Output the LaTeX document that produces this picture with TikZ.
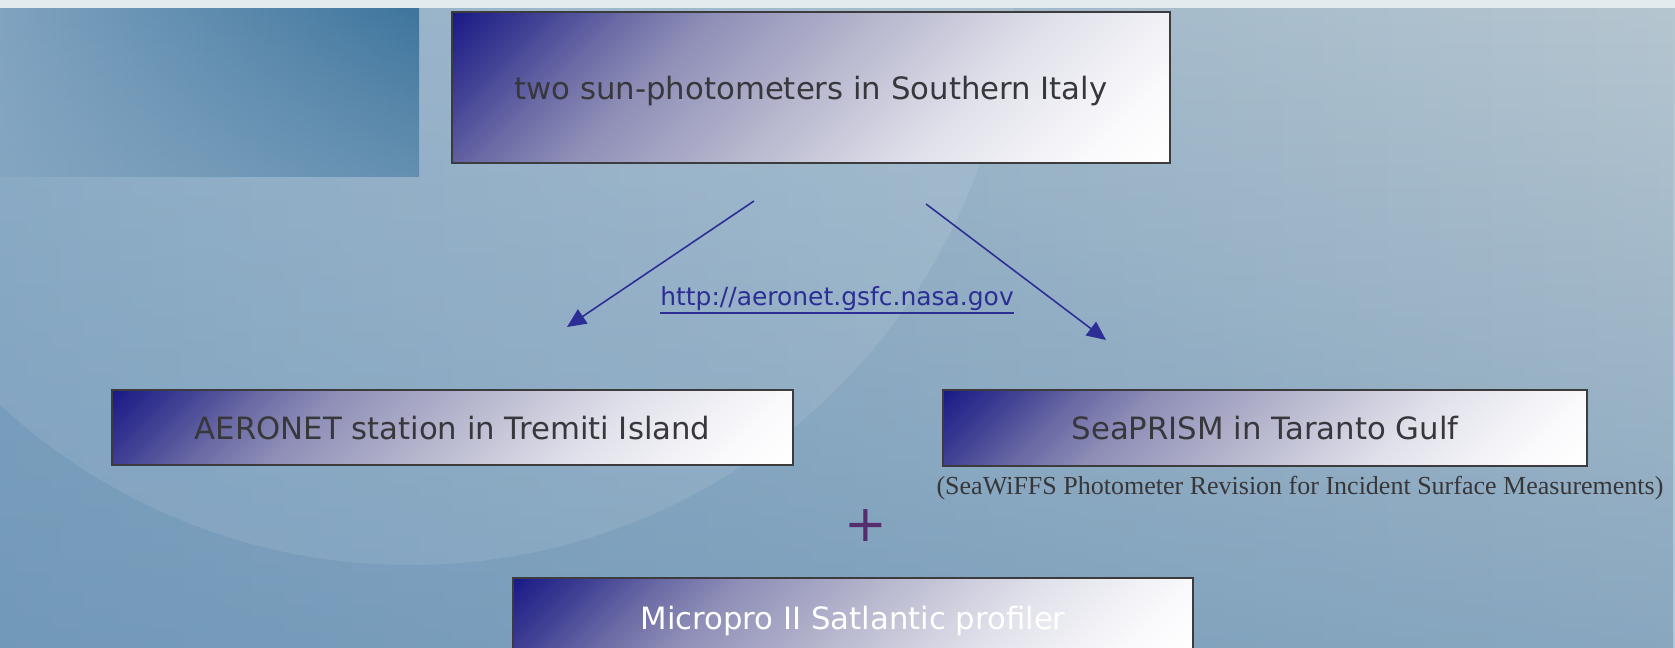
\documentclass[tikz,border=0pt]{standalone}
\usepackage{fontspec}
\setmainfont{DejaVu Sans}
\newfontfamily\timesfont{Liberation Serif}
\usetikzlibrary{arrows.meta,fadings}

\definecolor{navy}{RGB}{25,25,135}
\definecolor{boxtext}{RGB}{55,55,60}
\definecolor{boxline}{RGB}{60,60,62}
\definecolor{linkblue}{RGB}{45,45,150}
\definecolor{plusviolet}{RGB}{85,45,110}
\definecolor{notegray}{RGB}{55,55,58}
\definecolor{bgleft}{RGB}{132,166,194}
\definecolor{bgright}{RGB}{182,198,208}
\definecolor{bgdeep}{RGB}{100,142,178}
\definecolor{bgdark}{RGB}{62,117,157}
\definecolor{bgpale}{RGB}{128,163,192}
\definecolor{bgtop}{RGB}{228,235,239}

\pgfdeclareverticalshading{boxshade}{100bp}{rgb(0bp)=(1,1,1); rgb(14.6bp)=(1,1,1);
  rgb(21.5bp)=(0.98,0.98,0.99); rgb(35.8bp)=(0.88,0.88,0.92); rgb(50bp)=(0.72,0.72,0.81);
  rgb(64bp)=(0.56,0.56,0.72); rgb(71.2bp)=(0.42,0.42,0.65); rgb(78.3bp)=(0.25,0.25,0.58);
  rgb(85.4bp)=(0.10,0.10,0.53); rgb(100bp)=(0.10,0.10,0.53)}

\tikzfading[name=fadedown, top color=transparent!0, bottom color=transparent!45]
\tikzfading[name=fadeup, top color=transparent!100, bottom color=transparent!45]

\newcommand{\ulink}[1]{\setbox0\hbox{#1}\rlap{\rule[-5pt]{\wd0}{1.1pt}}\box0}

\tikzset{
  stagebox/.style={draw=boxline, line width=1.1pt, rectangle, inner sep=0pt,
    shade, shading=boxshade, shading angle=45, text depth=0pt,
    text=boxtext, font=\fontsize{17.5}{21}\selectfont},
  arrowline/.style={draw=linkblue, line width=0.9pt, -{Triangle[length=0.38cm,width=0.34cm]}}
}

\begin{document}
\begin{tikzpicture}[x=0.02cm, y=-0.02cm]
    \useasboundingbox (0,0) rectangle (1675,648);
    \clip (0,0) rectangle (1675,648);
    \shade[left color=bgleft, right color=bgright] (0,0) rectangle (1675,648);
    \fill[bgdeep, path fading=fadeup] (0,0) rectangle (1675,648);
    \fill[white, opacity=0.09] (410,-40) circle (605);
    \shade[left color=bgpale, right color=bgdark, path fading=fadedown] (0,8) rectangle (419,177);
    \fill[bgtop] (0,0) rectangle (1675,8);

    \node[stagebox, minimum width=14.36cm, minimum height=3.02cm] (photometers) at (811,87.5) {two sun-photometers in Southern Italy};
    \node[stagebox, minimum width=13.62cm, minimum height=1.5cm] (aeronet) at (452.5,427.5) {AERONET station in Tremiti Island};
    \node[stagebox, minimum width=12.88cm, minimum height=1.52cm] (seaprism) at (1265,428) {SeaPRISM in Taranto Gulf};
    \node[text=notegray, font=\timesfont\fontsize{14.8}{17}\selectfont] (acronym) at (1300,488) {(SeaWiFFS Photometer Revision for Incident Surface Measurements)};
    \node[text=linkblue, font=\fontsize{14.2}{17}\selectfont] (url) at (837,300) {\ulink{http://aeronet.gsfc.nasa.gov}};
    \node[text=plusviolet, font=\fontsize{29}{32}\selectfont] (plus) at (866,526) {+};
    \node[stagebox, minimum width=13.6cm, minimum height=1.6cm, text=white] (micropro) at (853,618) {Micropro II Satlantic profiler};

    \coordinate (splitleft) at (754,201);
    \coordinate (aeronetend) at (567,327);
    \coordinate (splitright) at (926,204);
    \coordinate (seaprismend) at (1106,340);
    \draw[arrowline] (splitleft) to (aeronetend);
    \draw[arrowline] (splitright) to (seaprismend);
\end{tikzpicture}
\end{document}
